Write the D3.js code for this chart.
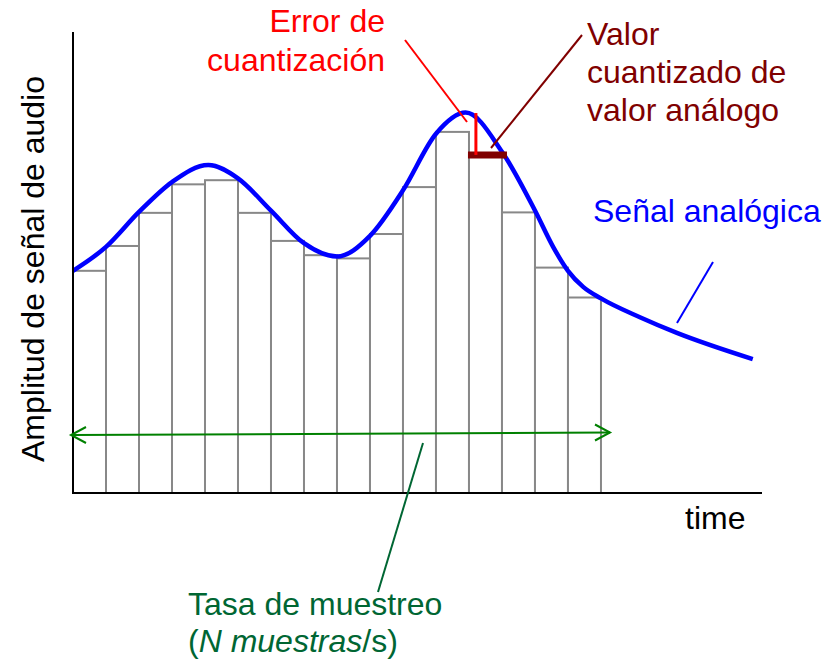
<!DOCTYPE html>
<html>
<head>
<meta charset="utf-8">
<script src="https://cdn.jsdelivr.net/npm/d3@7"></script>
<style>
  body { margin: 0; background: #fff; }
  svg text { font-family: "Liberation Sans", Arial, sans-serif; font-size: 32px; }
</style>
</head>
<body>
<svg id="chart" width="834" height="659"></svg>
<script>
// sampled (held) values, one per sample period
var sampleValues = [48.3, 53.7, 60.9, 67.1, 68.0, 60.9, 54.8, 51.7, 51.0, 56.3, 66.5, 78.5, 73.5, 61.0, 49.0, 42.5];

// analog signal (time in sample periods, amplitude 0-100)
var signalT = [0, 1, 2, 3, 4.1, 5, 6, 7, 8, 9, 10, 11, 11.9, 13, 14, 14.55, 15, 15.46, 16, 17.18, 18.3, 20.6];
var signalV = [48.3, 53.5, 61.1, 67.6, 71.3, 68.4, 61.4, 54.3, 51.4, 55.9, 65.8, 78.1, 82.7, 74.2, 61.4, 53.5, 48.3, 44.8, 42.3, 38.2, 34.8, 29.1];

// quantization error shown on sample 12
var errT = 12.21, errFrom = 82.6, errTo = 73.5;

var svg = d3.select("#chart");

var x = d3.scaleLinear().domain([0, 20.88]).range([73, 762]);
var y = d3.scaleLinear().domain([0, 100]).range([493, 33]);

// bars
svg.selectAll("rect.sample")
  .data(sampleValues)
  .enter().append("rect")
  .attr("class", "sample")
  .attr("x", function(d, i){ return x(i); })
  .attr("y", function(d){ return y(d); })
  .attr("width", x(1) - x(0))
  .attr("height", function(d){ return y(0) - y(d); })
  .style("fill", "#fff")
  .style("stroke", "#888")
  .style("stroke-width", 2);

// analog signal
var signal = signalT.map(function(t, i){ return [t, signalV[i]]; });
var line = d3.line()
  .x(function(d){ return x(d[0]); })
  .y(function(d){ return y(d[1]); })
  .curve(d3.curveMonotoneX);

svg.append("path")
  .datum(signal)
  .attr("d", line)
  .style("fill", "none")
  .style("stroke", "#0000ff")
  .style("stroke-width", 4.5);

// quantized value + error
svg.append("line")
  .attr("x1", x(12) - 1).attr("x2", x(13) + 5)
  .attr("y1", y(errTo)).attr("y2", y(errTo))
  .style("stroke", "#800000").style("stroke-width", 7);

svg.append("line")
  .attr("x1", x(errT)).attr("x2", x(errT))
  .attr("y1", y(errFrom)).attr("y2", y(errTo))
  .style("stroke", "#ff0000").style("stroke-width", 3);

// axes
svg.append("line")
  .attr("x1", x(0)).attr("x2", x(0)).attr("y1", 32).attr("y2", y(0))
  .style("stroke", "#000").style("stroke-width", 2);
svg.append("line")
  .attr("x1", x(0) - 1).attr("x2", x(20.88)).attr("y1", y(0)).attr("y2", y(0))
  .style("stroke", "#000").style("stroke-width", 2);

// sampling-rate arrow
var green = "#008000", dgreen = "#006633";
svg.append("line")
  .attr("x1", 71).attr("y1", 435).attr("x2", 610).attr("y2", 432.5)
  .style("stroke", green).style("stroke-width", 2);
svg.append("path")
  .attr("d", "M86,427 L71,435 L86,443")
  .style("fill", "none").style("stroke", green).style("stroke-width", 2);
svg.append("path")
  .attr("d", "M595,424.5 L610,432.5 L595,440.5")
  .style("fill", "none").style("stroke", green).style("stroke-width", 2);

// pointer lines
function pointer(x1, y1, x2, y2, color, w){
  svg.append("line")
    .attr("x1", x1).attr("y1", y1).attr("x2", x2).attr("y2", y2)
    .style("stroke", color).style("stroke-width", w);
}
pointer(405, 40, 467, 122, "#ff0000", 2);
pointer(582, 35, 491, 148, "#800000", 2);
pointer(713, 262, 677, 323, "#0000ff", 2);
pointer(423, 443, 378, 592, dgreen, 2);

// labels
svg.append("text")
  .attr("transform", "translate(44,269) rotate(-90)")
  .attr("text-anchor", "middle")
  .style("fill", "#000")
  .text("Amplitud de señal de audio");

var err = svg.append("text").attr("text-anchor", "end").style("fill", "#ff0000");
err.append("tspan").attr("x", 385).attr("y", 32).text("Error de");
err.append("tspan").attr("x", 385).attr("y", 71).text("cuantización");

var val = svg.append("text").style("fill", "#800000");
val.append("tspan").attr("x", 587).attr("y", 45).text("Valor");
val.append("tspan").attr("x", 587).attr("y", 83).text("cuantizado de");
val.append("tspan").attr("x", 587).attr("y", 121).text("valor análogo");

svg.append("text").attr("x", 593).attr("y", 222).style("fill", "#0000ff").text("Señal analógica");

svg.append("text").attr("x", 685).attr("y", 529).style("fill", "#000").text("time");

var tasa = svg.append("text").style("fill", dgreen);
tasa.append("tspan").attr("x", 188).attr("y", 615).text("Tasa de muestreo");
var l2 = svg.append("text").attr("x", 188).attr("y", 652).style("fill", dgreen);
l2.append("tspan").text("(");
l2.append("tspan").style("font-style", "italic").text("N muestras");
l2.append("tspan").text("/s)");
</script>
</body>
</html>
